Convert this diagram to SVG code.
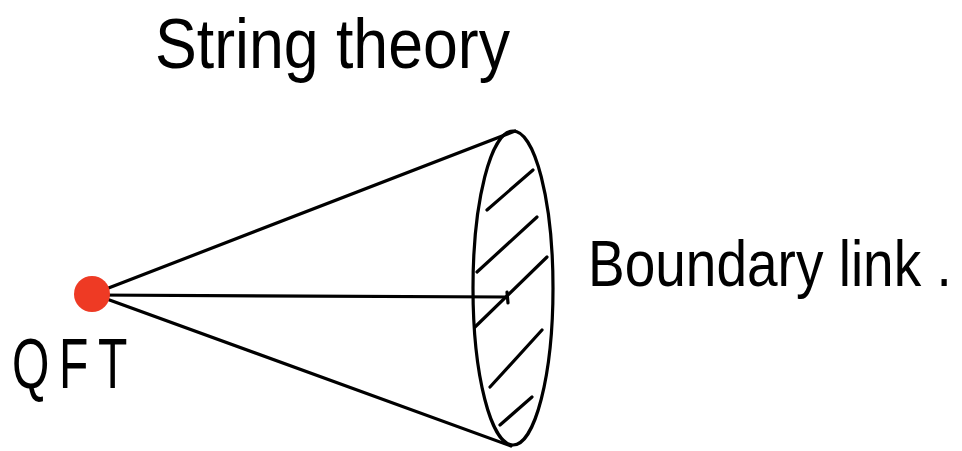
<svg xmlns="http://www.w3.org/2000/svg" width="962" height="451" viewBox="0 0 962 451">
<style>
.ln{fill:none;stroke:#000;stroke-width:3.2;stroke-linecap:round;stroke-linejoin:round}
.h{fill:none;stroke:#000;stroke-width:3.2;stroke-linecap:round}
.t{font-family:"Liberation Sans","DejaVu Sans",sans-serif;fill:#000}
</style>
<rect width="962" height="451" fill="#fff"/>
<g id="cone">
<ellipse cx="513" cy="288" rx="40" ry="157" class="ln"/>
<line x1="93" y1="294" x2="515" y2="131" class="ln"/>
<line x1="93" y1="294" x2="511" y2="446" class="ln"/>
</g>
<g id="hatching">
<line x1="487" y1="210" x2="533" y2="170" class="h"/>
<line x1="477" y1="272" x2="537" y2="217" class="h"/>
<line x1="475" y1="327" x2="547" y2="257" class="h"/>
<line x1="490" y1="387" x2="542" y2="330" class="h"/>
<line x1="500" y1="425" x2="532" y2="397" class="h"/>
</g>
<g id="connectors">
<line x1="93" y1="295" x2="507" y2="297" class="ln"/>
<line x1="507" y1="292" x2="508" y2="303" class="ln" stroke-width="4"/>
</g>
<g id="qft-node">
<circle cx="92" cy="294" r="18" fill="#EE3A24"/>
<text x="12" y="388" class="t" font-size="70" letter-spacing="14" textLength="125" lengthAdjust="spacingAndGlyphs">QFT</text>
</g>
<g id="string-theory">
<text x="155" y="68" class="t" font-size="70" textLength="355" lengthAdjust="spacingAndGlyphs">String theory</text>
</g>
<g id="boundary-link">
<text transform="translate(588,286) scale(1,1.18)" x="0" y="0" class="t" font-size="55">Boundary link .</text>
</g>
</svg>
